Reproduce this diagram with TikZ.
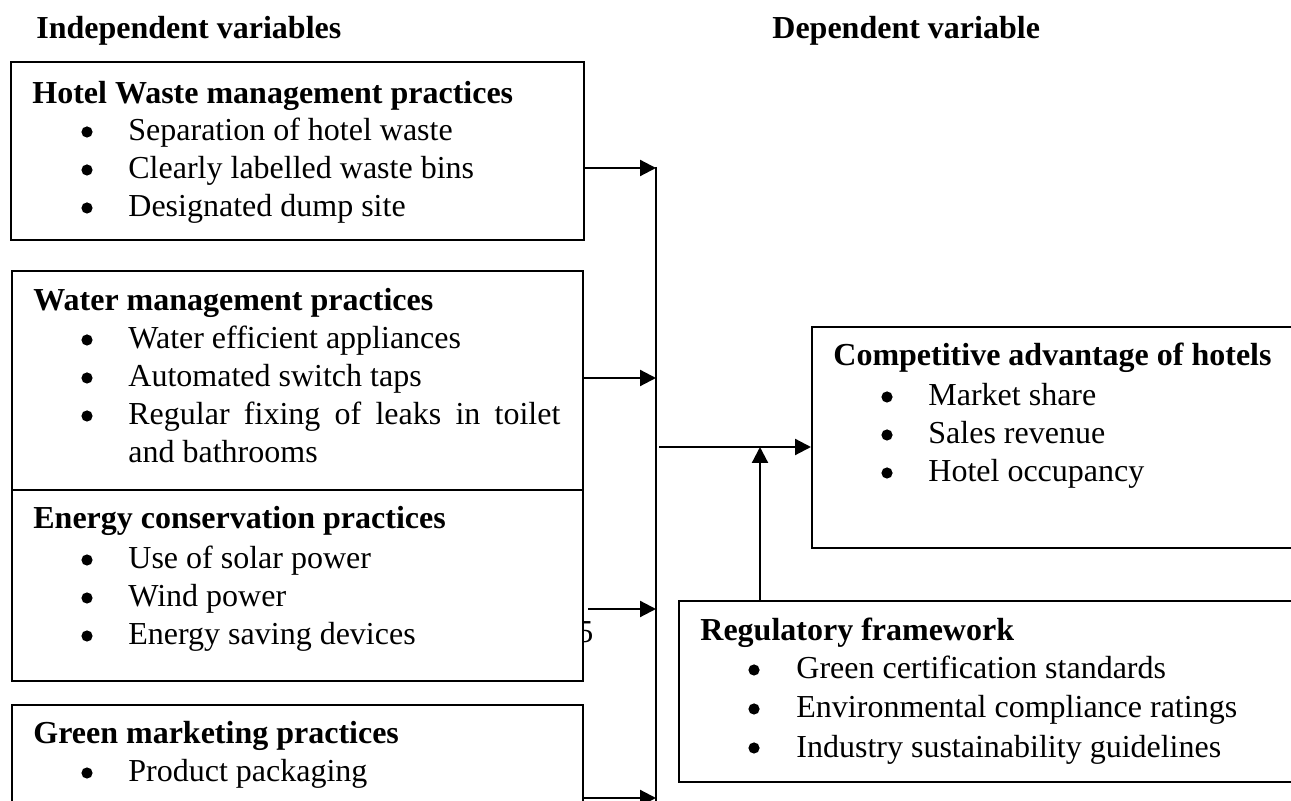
\documentclass[tikz,border=0pt]{standalone}
\usepackage{fontspec}
\setmainfont{Liberation Serif}
\usetikzlibrary{arrows.meta,fit}
\begin{document}
\begin{tikzpicture}[x=0.5pt,y=-0.5pt,
  every node/.style={font=\fontsize{16}{19}\selectfont},
  box/.style={draw,line width=1pt,fill=white,inner sep=0pt,rectangle},
  txt/.style={anchor=base west,inner sep=0pt},
  ttl/.style={txt,font=\fontsize{16}{19}\selectfont\bfseries},
  bul/.style={fill=black,circle,inner sep=0pt,minimum size=5.6pt},
  arr/.style={line width=1.1pt,-{Triangle[length=8pt,width=8pt]}},
  ln/.style={line width=1pt}]
\useasboundingbox (0,0) rectangle (1291,801);
\clip (0,0) rectangle (1291,801);

% headers
\node[ttl] (hind) at (36,39) {Independent variables};
\node[ttl] (hdep) at (772,39) {Dependent variable};

% stray page number behind box 3
\node[txt] (pg) at (577,643) {5};

% boxes
\node[box,fit={(11,62) (584,240)}] (b1) {};
\node[box,fit={(12,271) (583,490)}] (b2) {};
\node[box,fit={(12,490) (583,681)}] (b3) {};
\node[box,fit={(12,705) (583,840)}] (b4) {};
\node[box,fit={(812,327) (1320,548)}] (comp) {};
\node[box,fit={(679,601) (1320,782)}] (reg) {};

% box 1
\node[ttl] (t1) at (32,104) {Hotel Waste management practices};
\node[bul] (b1d1) at (87,132) {}; \node[txt] (b1i1) at (128,141) {Separation of hotel waste};
\node[bul] (b1d2) at (87,170) {}; \node[txt] (b1i2) at (128,179) {Clearly labelled waste bins};
\node[bul] (b1d3) at (87,208) {}; \node[txt] (b1i3) at (128,217) {Designated dump site};

% box 2
\node[ttl] (t2) at (33,311) {Water management practices};
\node[bul] (b2d1) at (87,340) {}; \node[txt] (b2i1) at (128,349) {Water efficient appliances};
\node[bul] (b2d2) at (87,378) {}; \node[txt] (b2i2) at (128,387) {Automated switch taps};
\node[bul] (b2d3) at (87,416) {}; \node[txt] (b2i3) at (128,425) {\makebox[216pt][s]{Regular fixing of leaks in toilet}};
\node[txt] (b2i4) at (128,463) {and bathrooms};

% box 3
\node[ttl] (t3) at (33,529) {Energy conservation practices};
\node[bul] (b3d1) at (87,560) {}; \node[txt] (b3i1) at (128,569) {Use of solar power};
\node[bul] (b3d2) at (87,598) {}; \node[txt] (b3i2) at (128,607) {Wind power};
\node[bul] (b3d3) at (87,636) {}; \node[txt] (b3i3) at (128,645) {Energy saving devices};

% box 4
\node[ttl] (t4) at (33,744) {Green marketing practices};
\node[bul] (b4d1) at (87,773) {}; \node[txt] (b4i1) at (128,782) {Product packaging};

% competitive advantage
\node[ttl] (tc) at (833,366) {Competitive advantage of hotels};
\node[bul] (cd1) at (887,397) {}; \node[txt] (ci1) at (928,406) {Market share};
\node[bul] (cd2) at (887,435) {}; \node[txt] (ci2) at (928,444) {Sales revenue};
\node[bul] (cd3) at (887,473) {}; \node[txt] (ci3) at (928,482) {Hotel occupancy};

% regulatory framework
\node[ttl] (tr) at (700,641) {Regulatory framework};
\node[bul] (rd1) at (754,670) {}; \node[txt] (ri1) at (796,679) {Green certification standards};
\node[bul] (rd2) at (754,709) {}; \node[txt] (ri2) at (796,718) {Environmental compliance ratings};
\node[bul] (rd3) at (754,748) {}; \node[txt] (ri3) at (796,757) {Industry sustainability guidelines};

% bus and connectors
\coordinate (btop) at (656,167);
\coordinate (bbot) at (656,830);
\coordinate (j1) at (656,168);
\coordinate (j2) at (656,378);
\coordinate (j3) at (656,609);
\coordinate (j4) at (656,798);
\coordinate (jm) at (659,447);
\coordinate (ju) at (760,447);

\draw[ln] (btop) -- (bbot);
\draw[arr] (b1.east |- j1) -- (j1);
\draw[arr] (b2.east |- j2) -- (j2);
\draw[arr] (b3.east |- j3) ++(2pt,0) -- (j3);
\draw[arr] (b4.east |- j4) -- (j4);
\draw[arr] (jm) -- (comp.west |- jm);
\draw[arr] (reg.north -| ju) -- (ju);
\end{tikzpicture}
\end{document}
